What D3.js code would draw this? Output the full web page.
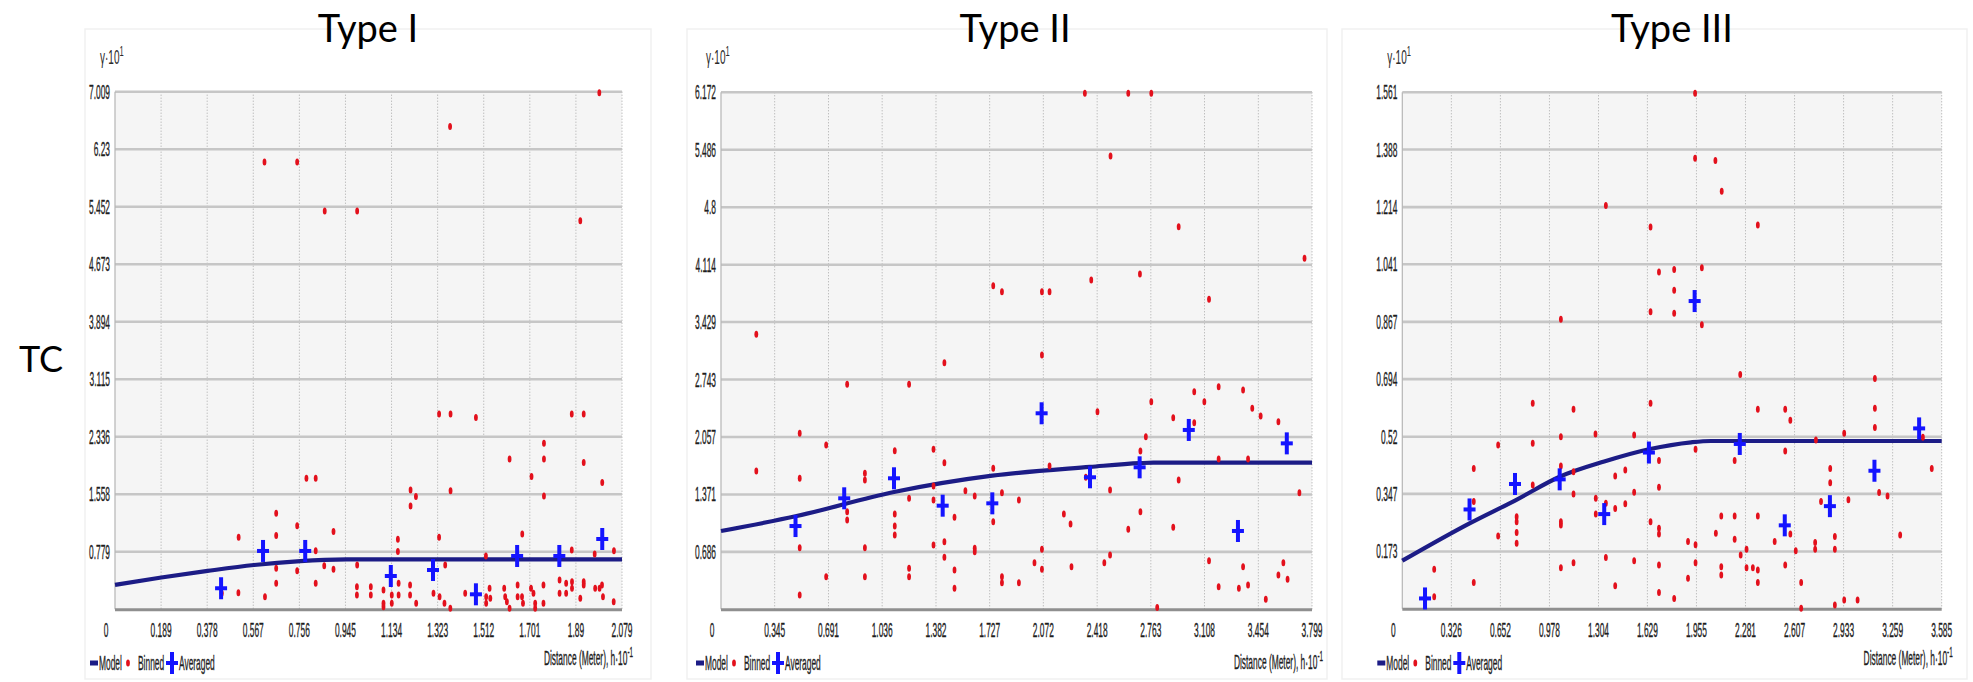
<!DOCTYPE html>
<html>
<head>
<meta charset="utf-8">
<script src="https://cdn.jsdelivr.net/npm/d3@7"></script>
<style>
  body { margin: 0; background: #fff; }
  svg { display: block; }
</style>
</head>
<body>
<div id="chart"></div>
<script>
// ---- data ----
const titles = ["Type I", "Type II", "Type III"];
const sideLabel = "TC";

const p1XTicks = ["0", "0.189", "0.378", "0.567", "0.756", "0.945", "1.134", "1.323", "1.512", "1.701", "1.89", "2.079"];
const p1YTicks = ["0.779", "1.558", "2.336", "3.115", "3.894", "4.673", "5.452", "6.23", "7.009"];
const p2XTicks = ["0", "0.345", "0.691", "1.036", "1.382", "1.727", "2.072", "2.418", "2.763", "3.108", "3.454", "3.799"];
const p2YTicks = ["0.686", "1.371", "2.057", "2.743", "3.429", "4.114", "4.8", "5.486", "6.172"];
const p3XTicks = ["0", "0.326", "0.652", "0.978", "1.304", "1.629", "1.955", "2.281", "2.607", "2.933", "3.259", "3.585"];
const p3YTicks = ["0.173", "0.347", "0.52", "0.694", "0.867", "1.041", "1.214", "1.388", "1.561"];

const p1Model = [[0, 0.33], [0.19, 0.43], [0.38, 0.52], [0.57, 0.60], [0.76, 0.652], [0.95, 0.676], [1.0, 0.677], [2.079, 0.677]];
const p1Averaged = [[0.435, 0.285], [0.607, 0.790], [0.780, 0.790], [1.131, 0.451], [1.304, 0.532], [1.480, 0.203], [1.649, 0.722], [1.822, 0.722], [1.998, 0.952]];
const p1Binned = [
  [0.613, 6.056], [0.747, 6.056], [0.860, 5.392], [0.993, 5.392], [1.374, 6.538], [1.908, 5.261], [1.986, 6.995],
  [1.329, 2.646], [1.376, 2.646], [1.480, 2.596], [1.873, 2.646], [1.922, 2.646],
  [1.759, 2.249], [1.618, 2.036], [1.759, 2.036], [1.922, 1.987],
  [0.785, 1.774], [0.823, 1.774], [1.708, 1.797],
  [1.212, 1.616], [1.234, 1.526], [1.212, 1.400], [1.376, 1.607], [1.998, 1.716], [1.759, 1.535],
  [0.661, 1.300], [0.507, 0.975], [0.661, 0.998], [0.747, 1.133], [0.896, 1.052], [1.160, 0.948], [1.329, 0.975], [1.670, 1.020],
  [0.823, 0.794], [1.160, 0.781], [1.873, 0.803], [1.967, 0.749], [2.046, 0.794],
  [0.661, 0.555], [0.747, 0.523], [0.858, 0.591], [0.896, 0.542], [0.993, 0.600], [1.354, 0.600], [1.521, 0.722],
  [0.661, 0.352], [0.823, 0.352],
  [0.438, 0.217], [0.506, 0.225], [0.615, 0.171], [0.992, 0.306], [0.992, 0.194], [1.049, 0.306], [1.049, 0.194],
  [1.101, 0.261], [1.101, 0.081], [1.101, 0.035], [1.135, 0.194], [1.135, 0.081], [1.163, 0.352], [1.163, 0.194],
  [1.210, 0.329], [1.210, 0.194], [1.235, 0.081], [1.306, 0.217], [1.331, 0.171], [1.351, 0.081], [1.375, 0.014],
  [1.436, 0.217], [1.522, 0.171], [1.522, 0.081], [1.536, 0.284], [1.539, 0.149], [1.596, 0.284], [1.600, 0.171],
  [1.607, 0.103], [1.618, 0.014], [1.651, 0.329], [1.651, 0.171], [1.669, 0.171], [1.673, 0.081], [1.706, 0.284],
  [1.716, 0.217], [1.723, 0.081], [1.723, 0.014], [1.757, 0.329], [1.757, 0.081], [1.823, 0.397], [1.823, 0.217],
  [1.850, 0.352], [1.850, 0.217], [1.874, 0.374], [1.874, 0.284], [1.908, 0.149], [1.922, 0.374], [1.922, 0.329],
  [1.969, 0.284], [1.987, 0.284], [1.997, 0.329], [2.001, 0.171], [2.045, 0.103]
];

const p2Model = [[0, 0.935], [0.479, 1.11], [1.112, 1.40], [1.744, 1.595], [2.372, 1.70], [2.691, 1.745], [2.78, 1.751], [3.799, 1.751]];
const p2Averaged = [[0.479, 0.994], [0.792, 1.325], [1.112, 1.564], [1.425, 1.237], [1.744, 1.265], [2.061, 2.340], [2.372, 1.576], [2.691, 1.695], [3.007, 2.141], [3.323, 0.935], [3.637, 1.981]];
const p2Binned = [
  [2.339, 6.16], [2.618, 6.16], [2.766, 6.16], [2.504, 5.412], [2.942, 4.568], [3.751, 4.190], [2.693, 4.003],
  [2.380, 3.931], [1.750, 3.864], [1.806, 3.792], [2.063, 3.792], [2.112, 3.792], [3.137, 3.700], [0.227, 3.283],
  [2.063, 3.036], [1.436, 2.944], [0.811, 2.686], [1.209, 2.686], [3.199, 2.658], [3.356, 2.618], [3.042, 2.598],
  [2.766, 2.479], [3.107, 2.479], [2.420, 2.359], [3.415, 2.399], [3.469, 2.308], [2.907, 2.288], [3.042, 2.228],
  [3.583, 2.240], [0.506, 2.101], [2.731, 2.061], [0.676, 1.961], [1.117, 1.894], [1.366, 1.910], [2.696, 1.890],
  [0.227, 1.651], [3.199, 1.794], [3.388, 1.794], [1.436, 1.751], [1.750, 1.683], [2.112, 1.711], [0.925, 1.623],
  [0.925, 1.544], [0.506, 1.564], [2.345, 1.576], [2.942, 1.544], [2.501, 1.424], [1.571, 1.416], [1.366, 1.472],
  [1.631, 1.353], [1.209, 1.325], [1.806, 1.392], [1.915, 1.305], [3.718, 1.392], [1.366, 1.305], [1.501, 1.098],
  [1.117, 1.138], [0.811, 1.166], [0.811, 1.066], [2.204, 1.138], [2.247, 1.018], [2.696, 1.166], [1.117, 0.994],
  [1.117, 0.887], [2.618, 0.955], [2.907, 0.979], [1.750, 1.046], [0.506, 0.736], [0.925, 0.736], [1.366, 0.768],
  [1.436, 0.807], [1.631, 0.728], [1.631, 0.688], [2.063, 0.716], [1.436, 0.620], [2.501, 0.648], [2.464, 0.557],
  [2.015, 0.557], [3.137, 0.581], [3.615, 0.557], [3.356, 0.509], [0.676, 0.390], [0.925, 0.390], [1.209, 0.489],
  [1.209, 0.390], [1.501, 0.469], [2.063, 0.477], [2.253, 0.509], [1.806, 0.390], [1.806, 0.318], [1.915, 0.318],
  [3.583, 0.410], [3.642, 0.358], [1.501, 0.250], [3.199, 0.270], [3.329, 0.250], [3.388, 0.290], [0.506, 0.171],
  [3.502, 0.119], [2.804, 0.020]
];

const p3Model = [[0, 0.145], [0.447, 0.258], [0.749, 0.327], [1.046, 0.399], [1.342, 0.445], [1.639, 0.482], [1.92, 0.503], [2.05, 0.507], [3.585, 0.507]];
const p3Averaged = [[0.151, 0.031], [0.447, 0.300], [0.749, 0.377], [1.046, 0.391], [1.342, 0.286], [1.639, 0.472], [1.943, 0.930], [2.243, 0.498], [2.542, 0.252], [2.842, 0.310], [3.138, 0.417], [3.435, 0.545]];
const p3Binned = [
  [1.946, 1.558], [1.946, 1.362], [2.081, 1.355], [2.123, 1.262], [1.353, 1.219], [1.650, 1.154], [2.363, 1.160],
  [1.991, 1.031], [1.706, 1.018], [1.807, 1.025], [1.807, 0.963], [1.650, 0.898], [1.807, 0.893], [1.054, 0.875], [1.991, 0.858],
  [2.246, 0.708], [3.141, 0.696], [0.867, 0.621], [1.138, 0.603], [1.650, 0.621], [2.363, 0.603], [2.545, 0.603],
  [2.579, 0.570], [3.141, 0.606], [3.141, 0.548], [0.637, 0.495], [0.867, 0.500], [1.054, 0.520], [1.284, 0.528],
  [1.541, 0.525], [2.937, 0.530], [2.749, 0.510], [2.545, 0.477], [1.949, 0.482], [2.209, 0.448], [0.475, 0.424],
  [1.054, 0.431], [1.138, 0.414], [1.482, 0.419], [1.415, 0.401], [1.706, 0.448], [1.706, 0.367], [1.541, 0.352],
  [2.844, 0.424], [2.844, 0.381], [0.867, 0.374], [1.138, 0.347], [3.169, 0.351], [3.225, 0.341], [2.783, 0.324],
  [2.965, 0.329], [0.475, 0.324], [1.286, 0.334], [1.353, 0.319], [1.482, 0.317], [1.415, 0.303], [1.286, 0.286],
  [2.120, 0.280], [2.209, 0.280], [2.363, 0.280], [0.760, 0.278], [0.760, 0.263], [1.054, 0.263], [1.054, 0.253],
  [1.650, 0.263], [1.706, 0.243], [1.706, 0.226], [0.637, 0.220], [0.760, 0.230], [0.760, 0.198], [2.084, 0.228],
  [2.209, 0.210], [2.475, 0.203], [2.579, 0.226], [2.744, 0.200], [2.744, 0.180], [2.875, 0.218], [2.875, 0.180],
  [1.899, 0.203], [1.949, 0.193], [2.288, 0.180], [2.249, 0.162], [2.615, 0.175], [1.353, 0.155], [1.706, 0.132],
  [1.054, 0.124], [1.138, 0.139], [1.541, 0.145], [1.949, 0.139], [2.120, 0.127], [2.120, 0.102], [2.288, 0.124],
  [2.330, 0.124], [2.363, 0.117], [2.363, 0.079], [2.545, 0.132], [0.212, 0.119], [0.475, 0.079], [1.415, 0.069],
  [1.899, 0.092], [2.651, 0.079], [1.706, 0.049], [1.807, 0.031], [0.212, 0.036], [2.875, 0.011], [2.937, 0.026],
  [3.026, 0.026], [2.651, 0.001], [3.309, 0.223], [3.519, 0.424], [3.460, 0.518]
];

// ---- layout ----
const W = 1973, H = 682;
const panels = [
  { title: titles[0], xTicks: p1XTicks, yTicks: p1YTicks, model: p1Model, avg: p1Averaged, binned: p1Binned,
    left: 115, right: 622, top: 91.7, bottom: 609.3, titleX: 368, distY: 658, frame: [85, 29, 566, 650] },
  { title: titles[1], xTicks: p2XTicks, yTicks: p2YTicks, model: p2Model, avg: p2Averaged, binned: p2Binned,
    left: 721, right: 1312, top: 92.3, bottom: 609.3, titleX: 1015, distY: 662, frame: [687, 29, 640, 650] },
  { title: titles[2], xTicks: p3XTicks, yTicks: p3YTicks, model: p3Model, avg: p3Averaged, binned: p3Binned,
    left: 1402.3, right: 1941.7, top: 92.3, bottom: 608.7, titleX: 1672, distY: 658, frame: [1342, 29, 625, 650] }
];

const navy = "#1c1c86", red = "#e3101c", blue = "#1414ff";
const condFont = "'Liberation Sans', Arial, sans-serif";
const squeeze = 0.42;

const svg = d3.select("#chart").append("svg")
  .attr("width", W).attr("height", H)
  .style("background", "#fff");

// narrow label like the original software output
function narrow(g, x, y, str, anchor, size) {
  return g.append("text")
    .attr("transform", `translate(${x},${y}) scale(${squeeze},1)`)
    .attr("text-anchor", anchor || "start")
    .attr("font-family", condFont)
    .attr("font-size", size || 20)
    .attr("fill", "#1e1e1e")
    .attr("stroke", "#1e1e1e").attr("stroke-width", 0.35)
    .text(str);
}

function drawCross(g, cx, cy) {
  g.append("rect").attr("x", cx - 2).attr("y", cy - 11).attr("width", 4).attr("height", 22).attr("fill", blue);
  g.append("rect").attr("x", cx - 6).attr("y", cy - 2).attr("width", 12).attr("height", 4).attr("fill", blue);
}

function drawDot(g, cx, cy) {
  g.append("ellipse").attr("cx", cx).attr("cy", cy).attr("rx", 1.9).attr("ry", 3.5).attr("fill", red);
}

panels.forEach(p => {
  const g = svg.append("g");
  const xMax = +p.xTicks[p.xTicks.length - 1];
  const yMax = +p.yTicks[p.yTicks.length - 1];
  const x = d3.scaleLinear().domain([0, xMax]).range([p.left, p.right]);
  const y = d3.scaleLinear().domain([0, yMax]).range([p.bottom, p.top]);

  // faint window frame
  g.append("rect")
    .attr("x", p.frame[0]).attr("y", p.frame[1])
    .attr("width", p.frame[2]).attr("height", p.frame[3])
    .attr("fill", "none").attr("stroke", "#f1f1f1").attr("stroke-width", 1.5);

  // title
  g.append("text")
    .attr("x", p.titleX).attr("y", 41.5)
    .attr("text-anchor", "middle")
    .attr("font-family", "Lato, 'Open Sans', sans-serif")
    .attr("font-size", 38)
    .attr("fill", "#000")
    .text(p.title);

  // plot background
  g.append("rect")
    .attr("x", p.left).attr("y", p.top)
    .attr("width", p.right - p.left).attr("height", p.bottom - p.top)
    .attr("fill", "#f5f5f5");

  // vertical dotted grid
  g.selectAll(".vgrid").data(p.xTicks.slice(1)).enter().append("line")
    .attr("x1", d => x(+d)).attr("x2", d => x(+d))
    .attr("y1", p.top).attr("y2", p.bottom)
    .attr("stroke", "#a8a8a8").attr("stroke-width", 1)
    .attr("stroke-dasharray", "1,2");

  // horizontal solid grid
  g.selectAll(".hgrid").data(p.yTicks).enter().append("line")
    .attr("x1", p.left).attr("x2", p.right)
    .attr("y1", d => y(+d)).attr("y2", d => y(+d))
    .attr("stroke", "#c6c6c6").attr("stroke-width", 2.6);

  // left edge and bottom axis
  g.append("line").attr("x1", p.left).attr("x2", p.left).attr("y1", p.top).attr("y2", p.bottom)
    .attr("stroke", "#b5b5b5").attr("stroke-width", 1.2);
  g.append("line").attr("x1", p.left).attr("x2", p.right).attr("y1", p.bottom + 0.5).attr("y2", p.bottom + 0.5)
    .attr("stroke", "#8f8f8f").attr("stroke-width", 3);

  // y tick labels
  p.yTicks.forEach(t => {
    narrow(g, p.left - 5, y(+t) + 7, t, "end");
  });
  // x tick labels (the zero sits a little to the left)
  p.xTicks.forEach((t, i) => {
    narrow(g, x(+t) - (i === 0 ? 9 : 0), 637, t, "middle");
  });

  // y axis unit label
  const yl = g.append("text")
    .attr("transform", `translate(${p.left - 15},${64}) scale(0.5,1)`)
    .attr("font-family", condFont).attr("font-size", 20).attr("fill", "#2a2a2a");
  yl.append("tspan").text("γ·10");
  yl.append("tspan").attr("dy", -8).attr("font-size", 15).text("1");

  // x axis unit label
  const xl = g.append("text")
    .attr("transform", `translate(${p.right + 11},${p.distY + 7}) scale(${squeeze},1)`)
    .attr("text-anchor", "end")
    .attr("font-family", condFont).attr("font-size", 20).attr("fill", "#1e1e1e")
    .attr("stroke", "#1e1e1e").attr("stroke-width", 0.35);
  xl.append("tspan").text("Distance (Meter), h·10");
  xl.append("tspan").attr("dy", -8).attr("font-size", 15).text("-1");

  // model curve
  const line = d3.line()
    .x(d => x(d[0])).y(d => y(d[1]))
    .curve(d3.curveMonotoneX);
  g.append("path").datum(p.model)
    .attr("d", line)
    .attr("fill", "none")
    .attr("stroke", navy).attr("stroke-width", 4.2);

  // binned points
  p.binned.forEach(d => drawDot(g, x(d[0]), y(d[1])));

  // averaged points
  p.avg.forEach(d => drawCross(g, x(d[0]), y(d[1])));

  // legend
  const lx = p.left - 25, ly = 663;
  g.append("rect").attr("x", lx).attr("y", ly - 2.5).attr("width", 8).attr("height", 5).attr("fill", navy);
  narrow(g, lx + 9, ly + 7, "Model");
  drawDot(g, lx + 38, ly);
  narrow(g, lx + 48, ly + 7, "Binned");
  drawCross(g, lx + 82, ly);
  narrow(g, lx + 89, ly + 7, "Averaged");
});

// row label
svg.append("text")
  .attr("x", 19).attr("y", 372)
  .attr("font-family", "Lato, 'Open Sans', sans-serif")
  .attr("font-size", 36)
  .attr("fill", "#000")
  .text(sideLabel);
</script>
</body>
</html>
